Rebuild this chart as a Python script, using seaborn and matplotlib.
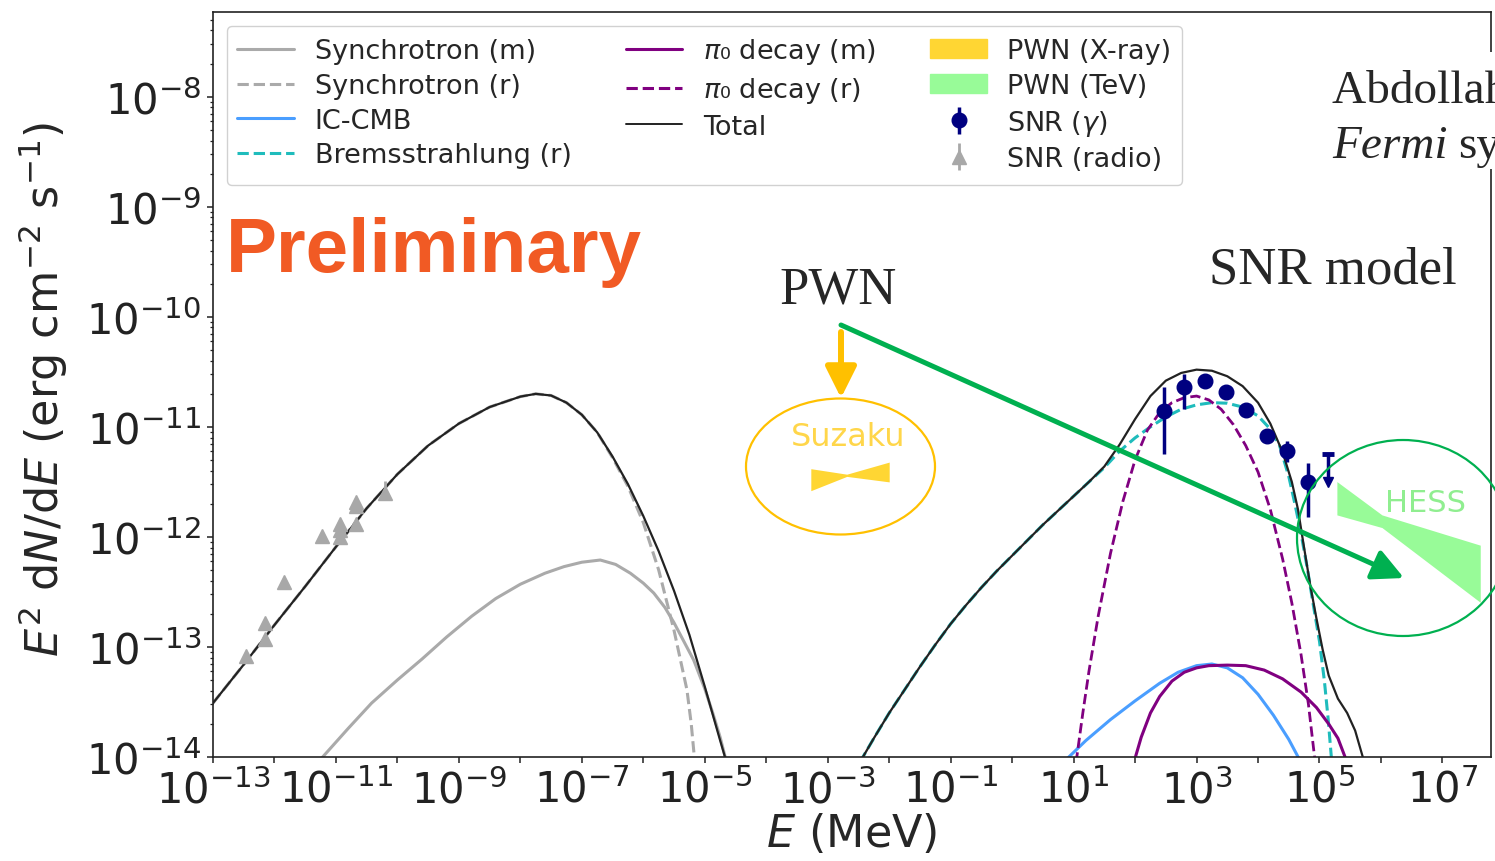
import numpy as np
import matplotlib
matplotlib.use("Agg")
import matplotlib.pyplot as plt
import seaborn as sns
from matplotlib import ticker
from matplotlib.lines import Line2D
from matplotlib.patches import Patch, Ellipse, FancyArrowPatch, Rectangle

# ---------------------------------------------------------------------------
# SED components: log10(E / MeV) and log10(E^2 dN/dE / erg cm^-2 s^-1)
# ---------------------------------------------------------------------------
sync_m_logE = [-11.28, -10.8, -10.42, -10.0, -9.6, -9.2, -8.79, -8.4, -8.0, -7.6, -7.29, -7.0, -6.70,
               -6.45, -6.21, -6.0, -5.83, -5.65, -5.50, -5.34, -5.18, -5.0, -4.87, -4.75, -4.64]
sync_m_logF = [-14.04, -13.74, -13.51, -13.30, -13.11, -12.91, -12.72, -12.56, -12.43, -12.33, -12.27, -12.23,
               -12.21, -12.25, -12.33, -12.42, -12.51, -12.64, -12.78, -12.95, -13.12, -13.38, -13.60,
               -13.82, -14.06]

sync_r_logE = [-13.0, -12.5, -12.0, -11.5, -11.0, -10.5, -10.0, -9.5, -9.0, -8.5, -8.0, -7.75, -7.5, -7.25,
               -7.0, -6.75, -6.5, -6.25, -6.0, -5.75, -5.5, -5.29, -5.22, -5.16]
sync_r_logF = [-13.51, -13.16, -12.80, -12.45, -12.09, -11.74, -11.43, -11.17, -10.97, -10.82, -10.725, -10.70,
               -10.715, -10.78, -10.89, -11.05, -11.28, -11.54, -11.87, -12.30, -12.85, -13.39, -13.70, -14.06]

total_lo_logE = [-13.0, -12.5, -12.0, -11.5, -11.0, -10.5, -10.0, -9.5, -9.0, -8.5, -8.0, -7.75, -7.5, -7.25,
                 -7.0, -6.75, -6.5, -6.25, -6.0, -5.75, -5.5, -5.25, -5.0, -4.75, -4.64]
total_lo_logF = [-13.51, -13.16, -12.80, -12.45, -12.09, -11.74, -11.43, -11.17, -10.97, -10.82, -10.725, -10.70,
                 -10.715, -10.78, -10.89, -11.05, -11.27, -11.52, -11.81, -12.13, -12.49, -12.89, -13.36,
                 -13.85, -14.06]

ic_logE = [0.83, 1.2, 1.6, 2.0, 2.4, 2.7, 3.0, 3.25, 3.5, 3.75, 4.0, 4.25, 4.5, 4.7]
ic_logF = [-14.05, -13.85, -13.66, -13.49, -13.33, -13.23, -13.17, -13.155, -13.19, -13.28, -13.43, -13.62,
           -13.84, -14.05]

brems_logE = [-2.48, -2.25, -2.0, -1.75, -1.5, -1.25, -1.0, -0.75, -0.5, -0.25, 0.0, 0.25, 0.5, 0.75, 1.0,
              1.25, 1.5, 1.75, 2.0, 2.25, 2.5, 2.75, 3.0, 3.25, 3.5, 3.75, 4.0, 4.2, 4.35, 4.5, 4.6, 4.7,
              4.8, 4.9, 5.0, 5.08, 5.14, 5.2]
brems_logF = [-14.05, -13.83, -13.60, -13.39, -13.18, -12.98, -12.79, -12.62, -12.46, -12.31, -12.17, -12.03,
              -11.89, -11.76, -11.63, -11.50, -11.37, -11.22, -11.10, -11.00, -10.91, -10.84, -10.80, -10.78,
              -10.785, -10.82, -10.90, -11.02, -11.17, -11.45, -11.70, -11.97, -12.28, -12.62, -12.95,
              -13.31, -13.65, -14.05]

pi_m_logE = [1.98, 2.1, 2.25, 2.4, 2.6, 2.8, 3.0, 3.2, 3.5, 3.8, 4.1, 4.4, 4.7, 4.95, 5.15, 5.3, 5.45]
pi_m_logF = [-14.05, -13.82, -13.60, -13.45, -13.31, -13.23, -13.19, -13.17, -13.165, -13.17, -13.21, -13.29,
             -13.41, -13.55, -13.70, -13.83, -14.05]

pi_r_logE = [1.04, 1.15, 1.25, 1.4, 1.6, 1.8, 2.0, 2.2, 2.4, 2.6, 2.8, 3.0, 3.2, 3.4, 3.6, 3.8, 4.0, 4.2,
             4.4, 4.55, 4.7, 4.82, 4.93]
pi_r_logF = [-14.05, -13.60, -13.22, -12.72, -12.15, -11.68, -11.30, -11.03, -10.87, -10.78, -10.735, -10.72,
             -10.755, -10.84, -10.98, -11.17, -11.41, -11.75, -12.20, -12.60, -13.07, -13.52, -14.05]

total_hi_logE = [-2.48, -2.25, -2.0, -1.75, -1.5, -1.25, -1.0, -0.75, -0.5, -0.25, 0.0, 0.25, 0.5, 0.75, 1.0,
                 1.25, 1.5, 1.75, 2.0, 2.25, 2.5, 2.75, 3.0, 3.25, 3.5, 3.75, 4.0, 4.2, 4.4, 4.55, 4.65,
                 4.75, 4.85, 4.95, 5.05, 5.15, 5.3, 5.45, 5.58, 5.73]
total_hi_logF = [-14.05, -13.83, -13.60, -13.39, -13.18, -12.98, -12.79, -12.62, -12.46, -12.31, -12.17, -12.03,
                 -11.89, -11.76, -11.63, -11.50, -11.36, -11.16, -10.93, -10.72, -10.58, -10.51, -10.48,
                 -10.49, -10.54, -10.63, -10.78, -10.97, -11.23, -11.50, -11.75, -12.10, -12.44, -12.74,
                 -13.02, -13.26, -13.47, -13.60, -13.76, -14.05]

# PWN butterflies (log10 E, lower / upper edge)
xray_logE = [-3.275, -2.69, -2.00]
xray_logF_lo = [-11.58, -11.45, -11.50]
xray_logF_hi = [-11.38, -11.43, -11.32]

tev_logE = [5.283, 6.016, 7.615]
tev_logF_lo = [-11.80, -11.915, -12.594]
tev_logF_hi = [-11.497, -11.80, -12.075]

# SNR gamma-ray points
fermi_logE = [2.47, 2.80, 3.13, 3.475, 3.81, 4.145, 4.47, 4.81]
fermi_logF = [-10.857, -10.64, -10.58, -10.68, -10.85, -11.08, -11.215, -11.50]
fermi_logF_lo = [-11.245, -10.84, -10.60, -10.70, -10.87, -11.10, -11.32, -11.82]
fermi_logF_hi = [-10.64, -10.52, -10.56, -10.66, -10.83, -11.06, -11.125, -11.33]
fermi_ul_logE = 5.14
fermi_ul_logF = -11.245
fermi_ul_logF_tip = -11.50

# SNR radio points
radio_logE = [-12.46, -12.16, -12.16, -11.84, -11.22, -10.94, -10.94, -10.94, -10.67, -10.67, -10.67, -10.20]
radio_logF = [-13.08, -12.78, -12.93, -12.41, -11.99, -11.88, -11.94, -12.00, -11.68, -11.72, -11.88, -11.60]
radio_logF_hi = [-13.06, -12.76, -12.91, -12.39, -11.97, -11.86, -11.92, -11.98, -11.66, -11.70, -11.86, -11.49]

# ---------------------------------------------------------------------------
W, H = 1495, 862
sns.set_theme(style="ticks")
plt.rcParams.update({
    "font.family": ["DejaVu Sans"],
    "mathtext.fontset": "dejavusans",
    "axes.edgecolor": "#222222",
    "axes.linewidth": 1.2,
    "xtick.color": "#222222",
    "ytick.color": "#222222",
})


def p(a):
    return 10.0 ** np.asarray(a, dtype=float)


def fx(px):
    return px / W


def fy(py):
    return 1.0 - py / H


fig = plt.figure(figsize=(W / 100, H / 100), dpi=100)
ax = fig.add_axes([fx(213), fy(758), (1491 - 213) / W, (758 - 13) / H])
ax.set_xscale("log")
ax.set_yscale("log")

GRAY = "#aaaaaa"
BLUE = "#4a9eff"
TEAL = "#1fbcbc"
PURPLE = "#800080"
GOLD = "#ffd633"
PALEGREEN = "#98fb98"
NAVY = "#000080"
DASH = (0, (3.7, 1.6))

line_kw = dict(ax=ax, sort=False, estimator=None, legend=False)
sns.lineplot(x=p(sync_m_logE), y=p(sync_m_logF), color=GRAY, lw=2.2, **line_kw)
sns.lineplot(x=p(sync_r_logE), y=p(sync_r_logF), color=GRAY, lw=2.2, linestyle=DASH, **line_kw)
sns.lineplot(x=p(ic_logE), y=p(ic_logF), color=BLUE, lw=2.2, **line_kw)
sns.lineplot(x=p(brems_logE), y=p(brems_logF), color=TEAL, lw=2.2, linestyle=DASH, **line_kw)
sns.lineplot(x=p(pi_m_logE), y=p(pi_m_logF), color=PURPLE, lw=2.2, **line_kw)
sns.lineplot(x=p(pi_r_logE), y=p(pi_r_logF), color=PURPLE, lw=2.0, linestyle=DASH, **line_kw)
sns.lineplot(x=p(total_lo_logE), y=p(total_lo_logF), color="#222222", lw=1.6, **line_kw)
sns.lineplot(x=p(total_hi_logE), y=p(total_hi_logF), color="#222222", lw=1.6, **line_kw)

ax.fill_between(p(xray_logE), p(xray_logF_lo), p(xray_logF_hi), color=GOLD, lw=0, zorder=3)
ax.fill_between(p(tev_logE), p(tev_logF_lo), p(tev_logF_hi), color=PALEGREEN, lw=0, zorder=3)

fE, fF = p(fermi_logE), p(fermi_logF)
fermi_err = [fF - p(fermi_logF_lo), p(fermi_logF_hi) - fF]
h_gamma = ax.errorbar(fE, fF, yerr=fermi_err, fmt="o", color=NAVY, ms=10.5, elinewidth=2.5,
                      capsize=0, zorder=6)
ax.vlines(p(fermi_ul_logE), p(fermi_ul_logF_tip), p(fermi_ul_logF), color=NAVY, lw=2.5, zorder=6)
ax.plot(p(fermi_ul_logE), p(fermi_ul_logF), marker="_", ms=8, mew=3.5, color=NAVY, zorder=6)
ax.plot(p(fermi_ul_logE), p(fermi_ul_logF_tip), marker="v", ms=7, color=NAVY, zorder=6)

rE, rF = p(radio_logE), p(radio_logF)
radio_err = [np.zeros_like(rF), p(radio_logF_hi) - rF]
h_radio = ax.errorbar(rE, rF, yerr=radio_err, fmt="^", color="#a8a8a8", ms=10.5, elinewidth=2,
                      capsize=0, zorder=5)

ax.set_xlim(1e-13, 10 ** 7.79)
ax.set_ylim(1e-14, 10 ** -7.23)

ax.xaxis.set_major_locator(ticker.FixedLocator(10.0 ** np.arange(-13, 8, 2)))
ax.xaxis.set_minor_locator(ticker.FixedLocator(10.0 ** np.arange(-12, 8, 2)))
ax.xaxis.set_major_formatter(ticker.LogFormatterSciNotation())
ax.xaxis.set_minor_formatter(ticker.NullFormatter())
ax.yaxis.set_major_locator(ticker.LogLocator(base=10, numticks=20))
ax.yaxis.set_minor_locator(ticker.LogLocator(base=10, subs=np.arange(2, 10), numticks=20))
ax.yaxis.set_minor_formatter(ticker.NullFormatter())
ax.tick_params(axis="both", which="major", direction="out", length=4.5, width=1.1, labelsize=30, pad=4)
ax.tick_params(axis="x", which="minor", direction="out", length=4.5, width=1.1)
ax.tick_params(axis="y", which="minor", direction="out", length=2.5, width=0.9)

ax.set_xlabel(r"$E$ (MeV)", fontsize=32)
ax.set_ylabel(r"$E^2$ d$N$/d$E$ (erg cm$^{-2}$ s$^{-1}$)", fontsize=32)
ax.xaxis.set_label_coords(0.5, -0.072)
ax.yaxis.set_label_coords(-0.112, 0.494)

# legend: three columns of four rows, the middle column has an empty slot
handles = [
    Line2D([], [], color=GRAY, lw=2.2),
    Line2D([], [], color=GRAY, lw=2.2, linestyle=DASH),
    Line2D([], [], color=BLUE, lw=2.2),
    Line2D([], [], color=TEAL, lw=2.2, linestyle=DASH),
    Line2D([], [], color=PURPLE, lw=2.2),
    Line2D([], [], color=PURPLE, lw=2.2, linestyle=DASH),
    Line2D([], [], color="#222222", lw=1.4),
    Line2D([], [], alpha=0),
    Patch(color=GOLD),
    Patch(color=PALEGREEN),
    h_gamma,
    h_radio,
]
labels = ["Synchrotron (m)", "Synchrotron (r)", "IC-CMB", "Bremsstrahlung (r)",
          r"$\pi$₀ decay (m)", r"$\pi$₀ decay (r)", "Total", "",
          "PWN (X-ray)", "PWN (TeV)", r"SNR ($\gamma$)", "SNR (radio)"]
leg = ax.legend(handles, labels, ncol=3, loc="upper left", fontsize=19.5, labelspacing=0.32,
                handlelength=2.1, handletextpad=0.75, columnspacing=2.0, borderpad=0.4,
                framealpha=0.9, edgecolor="#cccccc", fancybox=True)
leg.set_zorder(10)

# overlay annotations
fig.text(fx(226), fy(272), "Preliminary", fontsize=55, fontweight="bold", color="#f15a24",
         family="Liberation Sans", va="baseline", ha="left")
fig.text(fx(779), fy(303), "PWN", fontsize=38, family="Liberation Serif", va="baseline", ha="left")
fig.text(fx(1209), fy(283), "SNR model", fontsize=38, family="Liberation Serif", va="baseline", ha="left")

fig.add_artist(Rectangle((fx(1322), fy(170)), (W - 1322) / W, (170 - 53) / H,
                         transform=fig.transFigure, facecolor="white", edgecolor="none", zorder=4))
fig.text(fx(1332), fy(103), "Abdollahi et al.", fontsize=34, family="Liberation Serif",
         va="baseline", ha="left", zorder=5)
fig.text(fx(1332), fy(158), "Fermi", fontsize=34, family="Liberation Serif", style="italic",
         va="baseline", ha="left", zorder=5)
fig.text(fx(1458), fy(158), "systematics", fontsize=34, family="Liberation Serif",
         va="baseline", ha="left", zorder=5)

ORANGE = "#ffc000"
GREEN = "#00b050"
fig.add_artist(Ellipse((fx(840.5), fy(467.5)), 189 / W, 136 / H, transform=fig.transFigure,
                       fill=False, edgecolor=ORANGE, lw=1.6))
fig.add_artist(Ellipse((fx(1403), fy(539)), 212 / W, 196 / H, transform=fig.transFigure,
                       fill=False, edgecolor=GREEN, lw=1.6))
fig.text(fx(848), fy(446), "Suzaku", fontsize=23, color="#ffd64a", ha="center", va="baseline")
fig.text(fx(1426), fy(512), "HESS", fontsize=22, color="#90ee90", ha="center", va="baseline")

fig.add_artist(FancyArrowPatch((fx(841), fy(333)), (fx(841), fy(399)), transform=fig.transFigure,
                               arrowstyle="-|>,head_length=0.4,head_width=0.2", mutation_scale=47,
                               color=ORANGE, lw=4.3, shrinkA=0, shrinkB=0))
fig.add_artist(FancyArrowPatch((fx(841), fy(326)), (fx(1404), fy(579)), transform=fig.transFigure,
                               arrowstyle="-|>,head_length=0.4,head_width=0.2", mutation_scale=47,
                               color=GREEN, lw=3.6, shrinkA=0, shrinkB=0))

fig.savefig("out.png", dpi=100)
